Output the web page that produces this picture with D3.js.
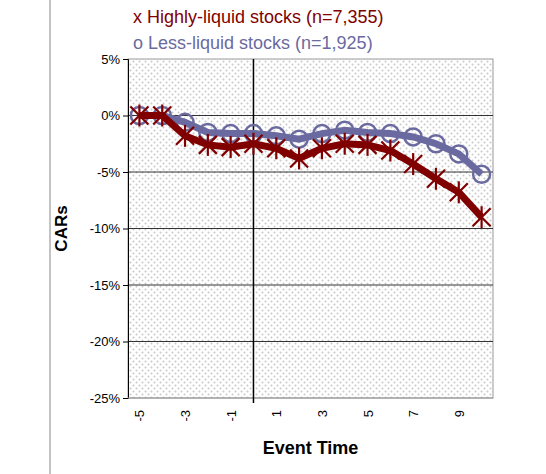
<!DOCTYPE html><html><head><script src="https://cdn.jsdelivr.net/npm/d3@7"></script>
<style>body{margin:0;background:#fff}text{font-family:Arial,"Liberation Sans",sans-serif}</style></head><body>
<svg id="c" width="546" height="474"></svg>
<script>
const eventTimes=[-5,-4,-3,-2,-1,0,1,2,3,4,5,6,7,8,9,10];
const highly=[0,0,-1.8,-2.6,-2.8,-2.5,-2.9,-3.8,-2.9,-2.5,-2.6,-3.1,-4.3,-5.6,-6.8,-9.0];
const less=[0,0,-0.6,-1.5,-1.6,-1.6,-1.8,-2.1,-1.6,-1.3,-1.5,-1.6,-1.9,-2.5,-3.4,-5.2];
const yTicks=[5,0,-5,-10,-15,-20,-25];
const xLabels=[-5,-3,-1,1,3,5,7,9];
const svg=d3.select("#c");
const L=128,R=493,T=59,B=398;
const x=d3.scalePoint().domain(eventTimes).range([L,R]).padding(0.5);
const y=d3.scaleLinear().domain([-25,5]).range([B,T]);
const defs=svg.append("defs");
const p=defs.append("pattern").attr("id","dots").attr("width",6).attr("height",6).attr("patternUnits","userSpaceOnUse");
p.append("rect").attr("width",6).attr("height",6).attr("fill","#fff");
p.append("circle").attr("cx",1.5).attr("cy",1.5).attr("r",1).attr("fill","#c8c8c8");
p.append("circle").attr("cx",4.5).attr("cy",4.5).attr("r",1).attr("fill","#c8c8c8");
svg.append("line").attr("x1",50).attr("x2",50).attr("y1",0).attr("y2",474).attr("stroke","#888");
svg.append("rect").attr("x",L).attr("y",T).attr("width",R-L).attr("height",B-T).attr("fill","url(#dots)").attr("stroke","#999");
svg.append("g").selectAll("line").data(yTicks.filter(d=>d!==-25&&d!==5)).join("line")
 .attr("x1",L).attr("x2",R).attr("y1",d=>y(d)).attr("y2",d=>y(d)).attr("stroke","#333").attr("stroke-width",1);
const ya=svg.append("g").attr("transform",`translate(${L},0)`).call(d3.axisLeft(y).tickValues(yTicks).tickSize(5).tickFormat(d=>d+"%"));
ya.select(".domain").attr("stroke","#000");
ya.selectAll("text").attr("font-size",13).attr("fill","#000");
svg.append("line").attr("x1",L).attr("x2",R).attr("y1",B).attr("y2",B).attr("stroke","#999");
svg.append("line").attr("x1",x(0)).attr("x2",x(0)).attr("y1",T).attr("y2",B+5).attr("stroke","#000").attr("stroke-width",1.5);
svg.append("g").selectAll("text").data(xLabels).join("text")
 .attr("transform",d=>`translate(${x(d)+5},${B+12}) rotate(-90)`).attr("text-anchor","end")
 .attr("font-size",13).text(d=>d);
const line=d3.line().x((d,i)=>x(eventTimes[i])).y(d=>y(d));
const blue="#6a6aa0",red="#800000";
svg.append("path").datum(less).attr("d",line).attr("fill","none").attr("stroke",blue).attr("stroke-width",7);
svg.append("g").selectAll("circle").data(less).join("circle").attr("cx",(d,i)=>x(eventTimes[i])).attr("cy",d=>y(d))
 .attr("r",8.5).attr("fill","none").attr("stroke",blue).attr("stroke-width",2.5);
svg.append("path").datum(highly).attr("d",line).attr("fill","none").attr("stroke",red).attr("stroke-width",7);
const st=svg.append("g").selectAll("g").data(highly).join("g").attr("transform",(d,i)=>`translate(${x(eventTimes[i])},${y(d)})`);
[[-9,-9,9,9],[-9,9,9,-9],[0,-11,0,11]].forEach(a=>st.append("line").attr("x1",a[0]).attr("y1",a[1]).attr("x2",a[2]).attr("y2",a[3]).attr("stroke",red).attr("stroke-width",2.2));
svg.append("text").attr("x",133).attr("y",23).attr("font-size",18).attr("fill",red).text("x Highly-liquid stocks (n=7,355)");
svg.append("text").attr("x",133).attr("y",49).attr("font-size",18).attr("fill",blue).text("o Less-liquid stocks (n=1,925)");
svg.append("text").attr("transform",`translate(67,${(T+B)/2}) rotate(-90)`).attr("text-anchor","middle").attr("font-size",17).attr("font-weight","bold").text("CARs");
svg.append("text").attr("x",(L+R)/2).attr("y",454).attr("text-anchor","middle").attr("font-size",18).attr("font-weight","bold").text("Event Time");
</script></body></html>
